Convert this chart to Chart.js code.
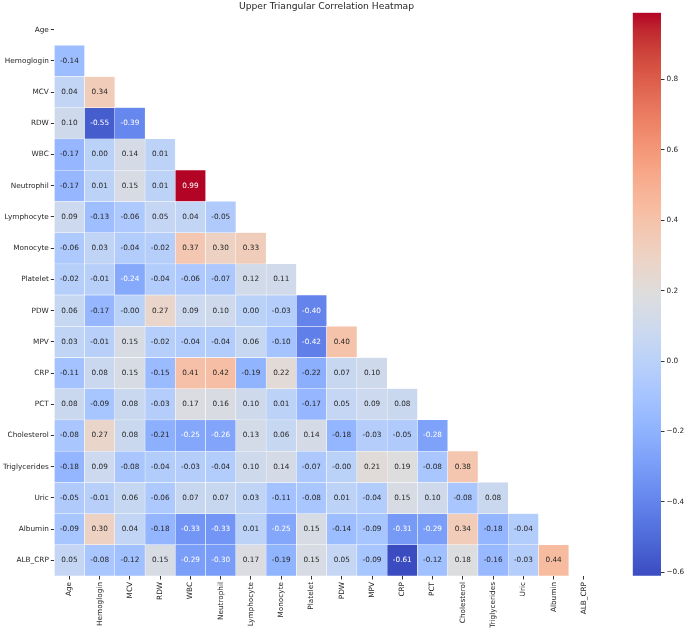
<!DOCTYPE html>
<html>
<head>
<meta charset="utf-8">
<script src="https://cdn.jsdelivr.net/npm/chart.js@4/dist/chart.umd.min.js"></script>
<style>
  html, body { margin: 0; padding: 0; background: #fff; }
  #wrap { position: relative; width: 685px; height: 631px; }
  #heat { position: absolute; left: 0; top: 0; }
  #bar { position: absolute; left: 620px; top: 0; z-index: 2; }
</style>
</head>
<body>
<div id="wrap">
  <canvas id="heat" width="653" height="631"></canvas>
  <canvas id="bar" width="65" height="631"></canvas>
</div>
<script>
const labels = ['Age', 'Hemoglogin', 'MCV', 'RDW', 'WBC', 'Neutrophil', 'Lymphocyte', 'Monocyte',
    'Platelet', 'PDW', 'MPV', 'CRP', 'PCT', 'Cholesterol', 'Triglycerides', 'Uric', 'Albumin', 'ALB_CRP'];

// lower triangle, row by row (row i has i values)
const rowAge = [];
const rowHemoglogin = [-0.14];
const rowMCV = [0.04, 0.34];
const rowRDW = [0.10, -0.55, -0.39];
const rowWBC = [-0.17, 0.00, 0.14, 0.01];
const rowNeutrophil = [-0.17, 0.01, 0.15, 0.01, 0.99];
const rowLymphocyte = [0.09, -0.13, -0.06, 0.05, 0.04, -0.05];
const rowMonocyte = [-0.06, 0.03, -0.04, -0.02, 0.37, 0.30, 0.33];
const rowPlatelet = [-0.02, -0.01, -0.24, -0.04, -0.06, -0.07, 0.12, 0.11];
const rowPDW = [0.06, -0.17, -0.00, 0.27, 0.09, 0.10, 0.00, -0.03, -0.40];
const rowMPV = [0.03, -0.01, 0.15, -0.02, -0.04, -0.04, 0.06, -0.10, -0.42, 0.40];
const rowCRP = [-0.11, 0.08, 0.15, -0.15, 0.41, 0.42, -0.19, 0.22, -0.22, 0.07, 0.10];
const rowPCT = [0.08, -0.09, 0.08, -0.03, 0.17, 0.16, 0.10, 0.01, -0.17, 0.05, 0.09, 0.08];
const rowCholesterol = [-0.08, 0.27, 0.08, -0.21, -0.25, -0.26, 0.13, 0.06, 0.14, -0.18, -0.03, -0.05, -0.28];
const rowTriglycerides = [-0.18, 0.09, -0.08, -0.04, -0.03, -0.04, 0.10, 0.14, -0.07, -0.00, 0.21, 0.19, -0.08, 0.38];
const rowUric = [-0.05, -0.01, 0.06, -0.06, 0.07, 0.07, 0.03, -0.11, -0.08, 0.01, -0.04, 0.15, 0.10, -0.08, 0.08];
const rowAlbumin = [-0.09, 0.30, 0.04, -0.18, -0.33, -0.33, 0.01, -0.25, 0.15, -0.14, -0.09, -0.31, -0.29, 0.34, -0.18, -0.04];
const rowALB_CRP = [0.05, -0.08, -0.12, 0.15, -0.29, -0.30, 0.17, -0.19, 0.15, 0.05, -0.09, -0.61, -0.12, 0.18, -0.16, -0.03, 0.44];

const rows = [rowAge, rowHemoglogin, rowMCV, rowRDW, rowWBC, rowNeutrophil, rowLymphocyte, rowMonocyte,
    rowPlatelet, rowPDW, rowMPV, rowCRP, rowPCT, rowCholesterol, rowTriglycerides, rowUric, rowAlbumin, rowALB_CRP];

const vmin = -0.61;
const vmax = 0.99;
const colorbarTicks = [-0.6, -0.4, -0.2, 0.0, 0.2, 0.4, 0.6, 0.8];

// coolwarm, 33 evenly spaced stops
const coolwarm = [
    [59,76,192],[68,90,204],[77,104,215],[87,117,225],[98,130,234],[108,142,241],[119,154,247],[130,165,251],
    [141,176,254],[152,185,255],[163,194,255],[174,201,253],[184,208,249],[194,213,244],[204,217,238],[213,219,230],
    [221,221,221],[229,216,209],[236,211,197],[241,204,185],[245,196,173],[247,187,160],[247,177,148],[247,166,135],
    [244,154,123],[241,141,111],[236,127,99],[229,112,89],[222,96,77],[213,80,66],[203,62,56],[192,40,47],[180,4,38]
];

function cmap(v) {
    let t = (v - vmin) / (vmax - vmin);
    t = Math.max(0, Math.min(1, t)) * (coolwarm.length - 1);
    const i = Math.min(Math.floor(t), coolwarm.length - 2);
    const f = t - i;
    const a = coolwarm[i], b = coolwarm[i + 1];
    return [0, 1, 2].map(k => Math.round(a[k] + (b[k] - a[k]) * f));
}

function luminance(rgb) {
    const lin = rgb.map(c => {
        c = c / 255;
        return c <= 0.03928 ? c / 12.92 : Math.pow((c + 0.055) / 1.055, 2.4);
    });
    return 0.2126 * lin[0] + 0.7152 * lin[1] + 0.0722 * lin[2];
}

const font = 'DejaVu Sans';
const textColor = '#262626';

const datasets = rows.map((row, i) => ({
    label: labels[i],
    data: labels.map((_, j) => j < i ? [i - 0.5, i + 0.5] : null),
    backgroundColor: (ctx) => {
        const v = row[ctx.dataIndex];
        if (v === undefined) return 'rgba(0,0,0,0)';
        const c = cmap(v);
        return 'rgb(' + c.join(',') + ')';
    },
    borderColor: '#ffffff',
    borderWidth: 0.5,
    borderSkipped: false,
    barPercentage: 1,
    categoryPercentage: 1,
    grouped: false
}));

const annotate = {
    id: 'annotate',
    afterDatasetsDraw(chart) {
        const c = chart.ctx;
        c.save();
        c.font = '7.3px "' + font + '"';
        c.textAlign = 'center';
        c.textBaseline = 'middle';
        chart.data.datasets.forEach((ds, i) => {
            const meta = chart.getDatasetMeta(i);
            meta.data.forEach((el, j) => {
                const v = rows[i][j];
                if (v === undefined) return;
                c.fillStyle = luminance(cmap(v)) < 0.408 ? '#ffffff' : textColor;
                const txt = (v === 0 && Object.is(v, -0) ? '-0.00' : v.toFixed(2));
                c.fillText(txt, el.x, (el.y + el.base) / 2);
            });
        });
        c.restore();
    }
};

new Chart(document.getElementById('heat'), {
    type: 'bar',
    data: { labels: labels, datasets: datasets },
    options: {
        responsive: false,
        animation: false,
        plugins: {
            legend: { display: false },
            tooltip: { enabled: false },
            title: {
                display: true,
                text: 'Upper Triangular Correlation Heatmap',
                color: textColor,
                font: { family: font, size: 9.2, weight: 'normal' },
                padding: { top: 1.5, bottom: 1.5 }
            }
        },
        scales: {
            x: {
                type: 'category',
                offset: true,
                grid: { display: true, drawOnChartArea: false, offset: false, tickLength: 3.5, tickColor: '#333' },
                border: { display: false },
                ticks: {
                    autoSkip: false,
                    minRotation: 90,
                    maxRotation: 90,
                    padding: 2.5,
                    color: textColor,
                    font: { family: font, size: 7.3 }
                },
                afterFit: (s) => { s.height = 55; }
            },
            y: {
                type: 'linear',
                reverse: true,
                min: -0.5,
                max: labels.length - 0.5,
                grid: { display: true, drawOnChartArea: false, tickLength: 3.5, tickColor: '#333' },
                border: { display: false },
                afterBuildTicks: (s) => { s.ticks = labels.map((_, i) => ({ value: i })); },
                ticks: {
                    autoSkip: false,
                    padding: 2,
                    color: textColor,
                    font: { family: font, size: 7.3 },
                    callback: (v) => labels[v]
                },
                afterFit: (s) => { s.width = 54.3; }
            },
            // empty right axis: keeps the title centred over the cells
            spacer: {
                type: 'linear',
                position: 'right',
                display: true,
                grid: { display: false },
                border: { display: false },
                ticks: { display: false },
                afterFit: (s) => { s.width = 54; }
            }
        }
    },
    plugins: [annotate]
});

// colorbar
new Chart(document.getElementById('bar'), {
    type: 'bar',
    data: {
        labels: ['colorbar'],
        datasets: [{
            data: [[vmin, vmax]],
            backgroundColor: (ctx) => {
                const area = ctx.chart.chartArea;
                if (!area) return 'rgba(0,0,0,0)';
                const g = ctx.chart.ctx.createLinearGradient(0, area.bottom, 0, area.top);
                coolwarm.forEach((c, k) => g.addColorStop(k / (coolwarm.length - 1), 'rgb(' + c.join(',') + ')'));
                return g;
            },
            borderWidth: 0,
            barPercentage: 1,
            categoryPercentage: 1
        }]
    },
    options: {
        responsive: false,
        animation: false,
        layout: { padding: { left: 12.7, top: 12.7, bottom: 55.3, right: 0 } },
        plugins: { legend: { display: false }, tooltip: { enabled: false } },
        scales: {
            x: { display: false },
            y: {
                position: 'right',
                min: vmin,
                max: vmax,
                grid: { display: true, drawOnChartArea: false, tickLength: 3.5, tickColor: '#333' },
                border: { display: false },
                afterBuildTicks: (s) => { s.ticks = colorbarTicks.map(v => ({ value: v })); },
                ticks: {
                    padding: 2,
                    color: textColor,
                    font: { family: font, size: 7.3 },
                    callback: (v) => (v < 0 ? '\u2212' : '') + Math.abs(v).toFixed(1)
                },
                afterFit: (s) => { s.width = 24; }
            }
        }
    }
});
</script>
</body>
</html>
